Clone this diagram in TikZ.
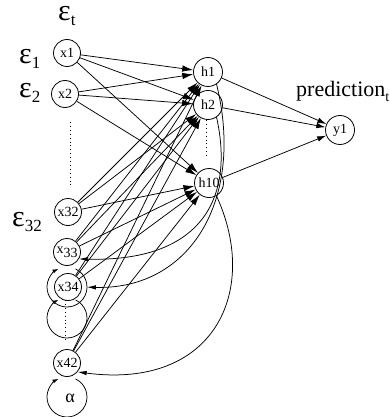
\documentclass[tikz,border=0pt]{standalone}
\usepackage{fontspec}
\setmainfont{Liberation Serif}
\usetikzlibrary{arrows.meta}
\newcommand{\epslab}[1]{{\fontsize{30}{30}\selectfont ε}\raisebox{-5pt}{\fontsize{17}{17}\selectfont #1}}
\begin{document}
\begin{tikzpicture}[x=1pt,y=-1pt,
  unit/.style={circle,draw,line width=0.8pt,minimum size=27pt,inner sep=0pt,font=\fontsize{14}{14}\selectfont},
  hid/.style={unit,minimum size=29pt},
  ff/.style={line width=0.75pt,-{Latex[length=11pt,width=6.5pt]}},
  outa/.style={line width=0.75pt,-{Latex[length=9pt,width=5.5pt]}},
  rec/.style={line width=0.75pt,-{Latex[length=9pt,width=4.5pt]}},
  selfl/.style={line width=0.75pt,-{Latex[length=6pt,width=4pt]}},
  dots/.style={line width=0.9pt,dash pattern=on 0.9pt off 3pt},
  lab/.style={inner sep=0pt,anchor=base west}]
\useasboundingbox (0,0) rectangle (390,417);
% input units
\node[unit] (x1) at (67,53) {x1};
\node[unit] (x2) at (65,94) {x2};
\node[unit] (x32) at (68,212) {x32};
\node[unit] (x33) at (67,252) {x\raisebox{-4pt}{33}};
\node[unit] (x34) at (68,287) {x34};
\node[unit] (x42) at (67,363) {x42};
% hidden and output units
\node[hid] (h1) at (208,72) {h1};
\node[hid] (h2) at (208,105) {h2};
\node[hid] (h10) at (209,183) {h10};
\node[hid] (y1) at (340,130) {y1};
% labels
\node[lab] (et) at (58,21) {\epslab{t}};
\node[lab] (e1) at (19,64) {\epslab{1}};
\node[lab] (e2) at (19,98) {\epslab{2}};
\node[lab] (e32) at (12,226) {\epslab{32}};
\node[lab] (pred) at (296,97) {\fontsize{22}{22}\selectfont prediction\raisebox{-5pt}{\fontsize{14}{14}\selectfont t}};
\node[font=\fontsize{18}{18}\selectfont] (alpha) at (70,398) {α};
% dots
\draw[dots] (70,122) -- (70,187);
\draw[dots] (206,120) -- (206,158);
\draw[dots] (65,300) -- (65,340);
% feed-forward connections
\foreach \s in {x1,x2,x32,x33,x34,x42}
  \foreach \t in {h1,h2,h10}
    \draw[ff] (\s) -- (\t);
\foreach \t in {h1,h2,h10}
  \draw[outa] (\t) -- (y1);
% self loops
\coordinate (l33) at (67,287);
\coordinate (l34) at (67,318);
\coordinate (l42) at (67,397);
\draw[selfl] (l33) ++(-65:20) arc[start angle=-65,end angle=245,radius=20];
\draw[selfl] (l34) ++(-65:20) arc[start angle=-65,end angle=245,radius=20];
\draw[selfl] (l42) ++(-65:20) arc[start angle=-65,end angle=245,radius=20];
% recurrent connections
\draw[rec,shorten >=5pt] (h1.-55) .. controls (245,200) and (190,290) .. (x34.east);
\draw[rec] (h2.-55) .. controls (235,200) and (200,262) .. (x33.-30);
\draw[rec] (h10.-60) .. controls (260,290) and (215,390) .. (x42.-40);
\end{tikzpicture}
\end{document}
